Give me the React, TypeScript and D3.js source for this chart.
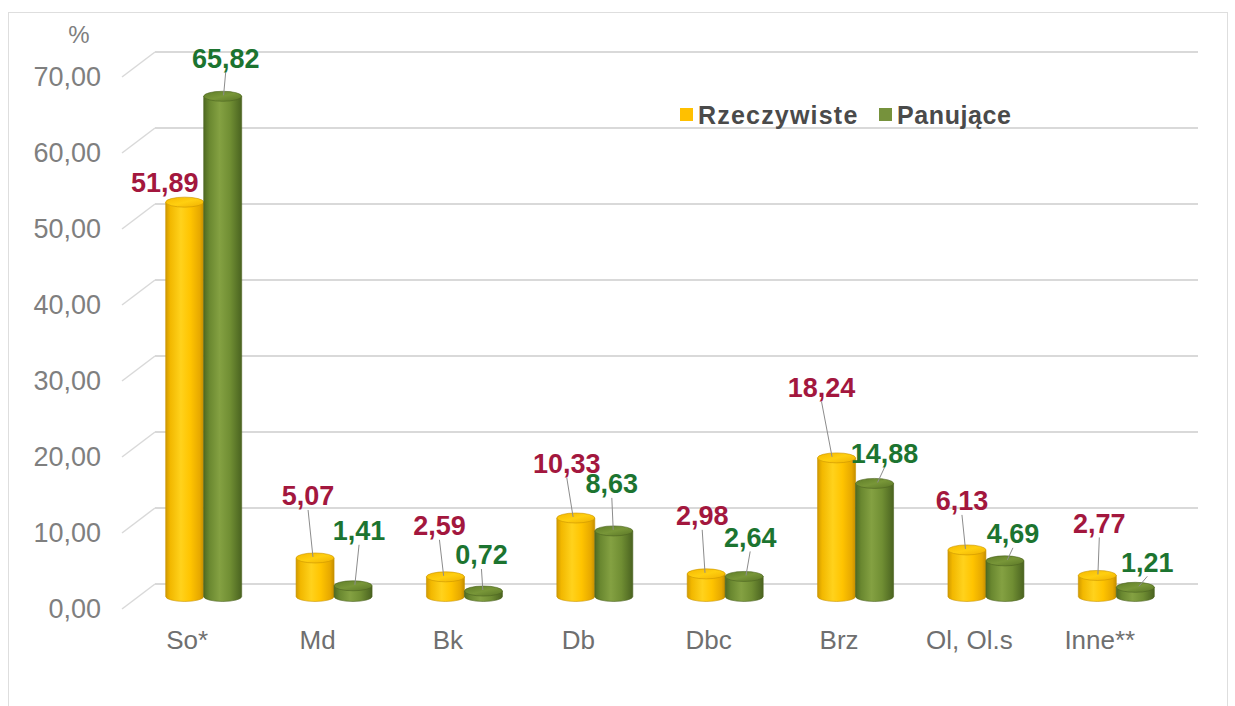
import React from "react";
import * as d3 from "d3";

const categories = ["So*", "Md", "Bk", "Db", "Dbc", "Brz", "Ol, Ol.s", "Inne**"];
const rzeczywiste = [51.89, 5.07, 2.59, 10.33, 2.98, 18.24, 6.13, 2.77];
const panujace = [65.82, 1.41, 0.72, 8.63, 2.64, 14.88, 4.69, 1.21];
const seriesNames = ["Rzeczywiste", "Panujące"];
const yTicks = [0, 10, 20, 30, 40, 50, 60, 70];

// label placement offsets (px) relative to each bar's top centre
const labelOffsetsR = [[-20, -20], [-7, -62], [-6, -51], [-9, -54], [-4, -58], [-15, -70], [-5, -49], [2, -52]];
const labelOffsetsP = [[3, -38], [6, -55], [-2, -36], [-2, -47], [6, -39], [10, -30], [8, -27], [12, -25]];

const W = 1235;
const H = 706;
const FONT = "'Liberation Sans', Arial, sans-serif";

const fmt = (v: number) => v.toFixed(2).replace(".", ",");

export default function App() {
  const x = d3.scaleBand<string>().domain(categories).range([155, 1198]).paddingInner(0).paddingOuter(0);
  const x1 = d3.scaleBand<string>().domain(seriesNames).range([-38, 38]).padding(0);
  const y = d3.scaleLinear().domain([0, 70]).range([584, 52]);
  const depthX = -33;
  const depthY = 25;
  const barShiftX = depthX / 2;
  const barShiftY = depthY / 2;
  const rx = x1.bandwidth() / 2;
  const ry = 5;
  const base = y(0) + barShiftY;

  const series = [
    { name: seriesNames[0], values: rzeczywiste, offsets: labelOffsetsR, body: "gradY", top: "gradYTop", stroke: "#c99400", label: "#a3173e", swatch: "#ffc000" },
    { name: seriesNames[1], values: panujace, offsets: labelOffsetsP, body: "gradG", top: "gradGTop", stroke: "#4b6320", label: "#1c7430", swatch: "#76923c" },
  ];

  return (
    <svg width={W} height={H} style={{ position: "absolute", left: 0, top: 0, background: "#fff" }}>
      <defs>
        <linearGradient id="gradY" x1="0" x2="1" y1="0" y2="0">
          <stop offset="0" stopColor="#d19a00" />
          <stop offset="0.12" stopColor="#f2b800" />
          <stop offset="0.4" stopColor="#ffd21c" />
          <stop offset="0.65" stopColor="#ffc400" />
          <stop offset="0.9" stopColor="#e6a800" />
          <stop offset="1" stopColor="#c48e00" />
        </linearGradient>
        <linearGradient id="gradYTop" x1="0" x2="1" y1="0" y2="1">
          <stop offset="0" stopColor="#f5b800" />
          <stop offset="0.5" stopColor="#ffcf10" />
          <stop offset="1" stopColor="#f0b000" />
        </linearGradient>
        <linearGradient id="gradG" x1="0" x2="1" y1="0" y2="0">
          <stop offset="0" stopColor="#4f6a22" />
          <stop offset="0.15" stopColor="#6a8830" />
          <stop offset="0.42" stopColor="#84a142" />
          <stop offset="0.7" stopColor="#708e33" />
          <stop offset="1" stopColor="#4a6320" />
        </linearGradient>
        <linearGradient id="gradGTop" x1="0" x2="1" y1="0" y2="1">
          <stop offset="0" stopColor="#5f7d28" />
          <stop offset="0.5" stopColor="#789638" />
          <stop offset="1" stopColor="#5a7626" />
        </linearGradient>
      </defs>

      {/* outer frame */}
      <rect x={8.5} y={12.5} width={1219} height={720} fill="none" stroke="#dedede" strokeWidth={1} />

      {/* gridlines with 3D side wall segment */}
      {yTicks.map((t) => (
        <g key={"g" + t}>
          <line x1={x.range()[0]} x2={x.range()[1]} y1={y(t)} y2={y(t)} stroke="#d9d9d9" strokeWidth={2} />
          <line x1={x.range()[0]} x2={x.range()[0] + depthX} y1={y(t)} y2={y(t) + depthY} stroke="#d9d9d9" strokeWidth={1.5} />
          <text x={101} y={y(t) + depthY} dy="0.35em" textAnchor="end" fontFamily={FONT} fontSize={27} fill="#7f7f7f">
            {fmt(t)}
          </text>
        </g>
      ))}
      <text x={79} y={35} dy="0.35em" textAnchor="middle" fontFamily={FONT} fontSize={24} fill="#7f7f7f">%</text>

      {/* bars */}
      {categories.map((c, i) => (
        <g key={"b" + c}>
          {series.map((s) => {
            const v = s.values[i];
            const cx = (x(c) as number) + x.bandwidth() / 2 + barShiftX + (x1(s.name) as number) + rx;
            const yt = y(v) + barShiftY;
            const body = `M${cx - rx},${yt} L${cx - rx},${base} A${rx},${ry} 0 0 0 ${cx + rx},${base} L${cx + rx},${yt} Z`;
            return (
              <g key={s.name}>
                <path d={body} fill={`url(#${s.body})`} stroke={s.stroke} strokeWidth={0.6} />
                <ellipse cx={cx} cy={yt} rx={rx} ry={ry} fill={`url(#${s.top})`} stroke={s.stroke} strokeWidth={0.6} />
              </g>
            );
          })}
        </g>
      ))}

      {/* data labels with leader lines */}
      {categories.map((c, i) => (
        <g key={"l" + c}>
          {series.map((s) => {
            const v = s.values[i];
            const cx = (x(c) as number) + x.bandwidth() / 2 + barShiftX + (x1(s.name) as number) + rx;
            const yt = y(v) + barShiftY;
            const lx = cx + s.offsets[i][0];
            const ly = yt + s.offsets[i][1];
            const startY = ly + 14;
            const showLeader = yt - 2 - startY > 7;
            const ex = cx + (lx - cx) * 0.3;
            return (
              <g key={s.name}>
                {showLeader && (
                  <line x1={lx} y1={startY} x2={ex} y2={yt - 1} stroke="#8c8c8c" strokeWidth={1} />
                )}
                <text x={lx} y={ly} dy="0.35em" textAnchor="middle" fontFamily={FONT} fontSize={27} fontWeight="bold" fill={s.label}>
                  {fmt(v)}
                </text>
              </g>
            );
          })}
        </g>
      ))}

      {/* category labels */}
      {categories.map((c) => (
        <text key={"c" + c} x={(x(c) as number) + x.bandwidth() / 2 + depthX} y={640} dy="0.35em" textAnchor="middle" fontFamily={FONT} fontSize={26} fill="#6f6f6f">
          {c}
        </text>
      ))}

      {/* legend */}
      <g>
        <rect x={680} y={108} width={13} height={13} fill={series[0].swatch} />
        <text x={698} y={115} dy="0.35em" fontFamily={FONT} fontSize={25} fontWeight="bold" letterSpacing={1.2} fill="#4a4a4a">{seriesNames[0]}</text>
        <rect x={879} y={108} width={13} height={13} fill={series[1].swatch} />
        <text x={897} y={115} dy="0.35em" fontFamily={FONT} fontSize={25} fontWeight="bold" letterSpacing={0.6} fill="#4a4a4a">{seriesNames[1]}</text>
      </g>
    </svg>
  );
}
